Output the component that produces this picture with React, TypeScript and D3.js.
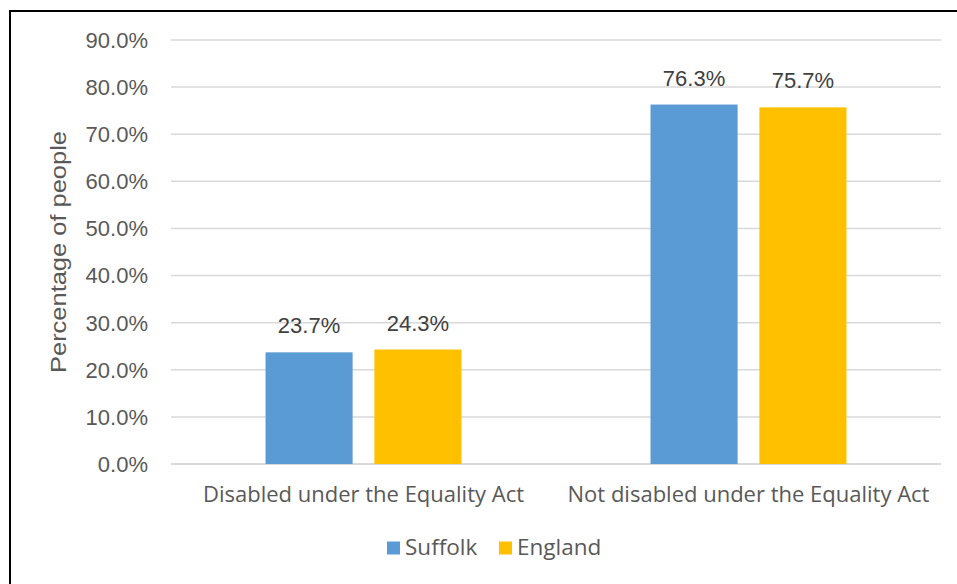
import React from "react";
import * as d3 from "d3";

const categories = ["Disabled under the Equality Act", "Not disabled under the Equality Act"];
const seriesNames = ["Suffolk", "England"];
const suffolkValues = [23.7, 76.3];
const englandValues = [24.3, 75.7];
const yTicks = [0, 10, 20, 30, 40, 50, 60, 70, 80, 90];
const seriesColors = ["#5B9BD5", "#FFC000"];

const W = 957;
const H = 584;
const plot = { left: 171, right: 941, top: 40, bottom: 464 };

export default function App() {
  const x0 = d3
    .scaleBand<string>()
    .domain(categories)
    .range([plot.left, plot.right])
    .paddingInner(0.491)
    .paddingOuter(0.2455);
  const x1 = d3
    .scaleBand<string>()
    .domain(seriesNames)
    .range([0, x0.bandwidth()])
    .paddingInner(0.2)
    .paddingOuter(0);
  const y = d3.scaleLinear().domain([0, 90]).range([plot.bottom, plot.top]);
  const values = [suffolkValues, englandValues];
  const textColor = "#595959";
  const tickFont = "'Liberation Sans', Arial, sans-serif";
  const catFont = "'Open Sans', 'Noto Sans', sans-serif";

  return (
    <>
      <style>{`body{margin:0}`}</style>
      <svg width={W} height={H} style={{ display: "block", background: "#fff" }}>
        <rect x={0} y={0} width={W} height={H} fill="#fff" />
        {/* frame */}
        <line x1={10} y1={11} x2={W} y2={11} stroke="#000" strokeWidth={2} />
        <line x1={10} y1={10} x2={10} y2={H} stroke="#000" strokeWidth={2} />

        {/* gridlines */}
        {yTicks.map((t) => (
          <line
            key={t}
            x1={plot.left}
            x2={plot.right}
            y1={y(t)}
            y2={y(t)}
            stroke="#D9D9D9"
            strokeWidth={t === 0 ? 2 : 1.5}
          />
        ))}
        {/* y tick labels */}
        {yTicks.map((t) => (
          <text
            key={"l" + t}
            x={148}
            y={y(t)}
            dy="0.36em"
            textAnchor="end"
            fontFamily={tickFont}
            fontSize={22}
            fill={textColor}
          >
            {d3.format(".1f")(t) + "%"}
          </text>
        ))}
        {/* y title */}
        <text
          transform={`translate(66,${(plot.top + plot.bottom) / 2}) rotate(-90)`}
          textAnchor="middle"
          fontFamily={tickFont}
          fontSize={22}
          textLength={242}
          lengthAdjust="spacingAndGlyphs"
          fill={textColor}
        >
          Percentage of people
        </text>

        {/* bars */}
        {categories.map((c, ci) =>
          seriesNames.map((s, si) => {
            const v = values[si][ci];
            const bx = (x0(c) ?? 0) + (x1(s) ?? 0);
            return (
              <g key={c + s}>
                <rect
                  x={bx}
                  y={y(v)}
                  width={x1.bandwidth()}
                  height={y(0) - y(v)}
                  fill={seriesColors[si]}
                />
                <text
                  x={bx + x1.bandwidth() / 2}
                  y={y(v) - 19}
                  textAnchor="middle"
                  fontFamily={tickFont}
                  fontSize={22}
                  fill="#404040"
                >
                  {v.toFixed(1) + "%"}
                </text>
              </g>
            );
          })
        )}

        {/* category labels */}
        {categories.map((c) => (
          <text
            key={"c" + c}
            x={(x0(c) ?? 0) + x0.bandwidth() / 2}
            y={502}
            textAnchor="middle"
            fontFamily={catFont}
            fontSize={22}
            fill={textColor}
          >
            {c}
          </text>
        ))}

        {/* legend */}
        {seriesNames.map((s, i) => {
          const lx = [387, 499][i];
          return (
            <g key={"lg" + s}>
              <rect x={lx} y={541.5} width={13} height={13} fill={seriesColors[i]} />
              <text
                x={lx + 18}
                y={555}
                fontFamily={catFont}
                fontSize={22.5}
                fill={textColor}
              >
                {s}
              </text>
            </g>
          );
        })}
      </svg>
    </>
  );
}
